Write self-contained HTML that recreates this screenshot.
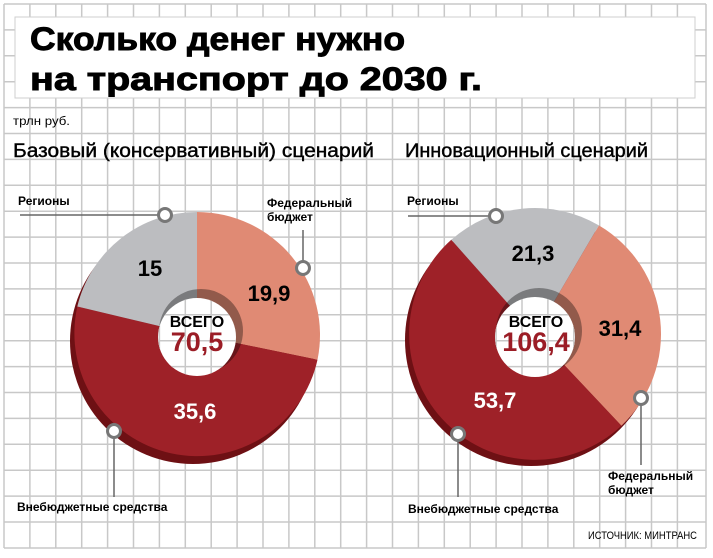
<!DOCTYPE html>
<html><head><meta charset="utf-8"><style>
html,body{margin:0;padding:0;background:#fff;}
svg{display:block;}
text{font-family:"Liberation Sans","DejaVu Sans",sans-serif;}
</style></head><body>
<svg width="713" height="558" viewBox="0 0 713 558" xmlns="http://www.w3.org/2000/svg">
<defs>
<g id="grid" stroke="#c8c8c8" stroke-width="1.5">
<line x1="4" y1="4" x2="4" y2="548"/><line x1="29.9" y1="4" x2="29.9" y2="548"/><line x1="55.8" y1="4" x2="55.8" y2="548"/><line x1="81.7" y1="4" x2="81.7" y2="548"/><line x1="107.6" y1="4" x2="107.6" y2="548"/><line x1="133.5" y1="4" x2="133.5" y2="548"/><line x1="159.4" y1="4" x2="159.4" y2="548"/><line x1="185.3" y1="4" x2="185.3" y2="548"/><line x1="211.2" y1="4" x2="211.2" y2="548"/><line x1="237.1" y1="4" x2="237.1" y2="548"/><line x1="263" y1="4" x2="263" y2="548"/><line x1="288.9" y1="4" x2="288.9" y2="548"/><line x1="314.8" y1="4" x2="314.8" y2="548"/><line x1="340.7" y1="4" x2="340.7" y2="548"/><line x1="366.6" y1="4" x2="366.6" y2="548"/><line x1="392.5" y1="4" x2="392.5" y2="548"/><line x1="418.4" y1="4" x2="418.4" y2="548"/><line x1="444.3" y1="4" x2="444.3" y2="548"/><line x1="470.2" y1="4" x2="470.2" y2="548"/><line x1="496.1" y1="4" x2="496.1" y2="548"/><line x1="522" y1="4" x2="522" y2="548"/><line x1="547.9" y1="4" x2="547.9" y2="548"/><line x1="573.8" y1="4" x2="573.8" y2="548"/><line x1="599.7" y1="4" x2="599.7" y2="548"/><line x1="625.6" y1="4" x2="625.6" y2="548"/><line x1="651.5" y1="4" x2="651.5" y2="548"/><line x1="677.4" y1="4" x2="677.4" y2="548"/><line x1="706" y1="4" x2="706" y2="548"/>
<line x1="4" y1="4" x2="706" y2="4"/><line x1="4" y1="29.9" x2="706" y2="29.9"/><line x1="4" y1="55.8" x2="706" y2="55.8"/><line x1="4" y1="81.7" x2="706" y2="81.7"/><line x1="4" y1="107.6" x2="706" y2="107.6"/><line x1="4" y1="133.5" x2="706" y2="133.5"/><line x1="4" y1="159.4" x2="706" y2="159.4"/><line x1="4" y1="185.3" x2="706" y2="185.3"/><line x1="4" y1="211.2" x2="706" y2="211.2"/><line x1="4" y1="237.1" x2="706" y2="237.1"/><line x1="4" y1="263" x2="706" y2="263"/><line x1="4" y1="288.9" x2="706" y2="288.9"/><line x1="4" y1="314.8" x2="706" y2="314.8"/><line x1="4" y1="340.7" x2="706" y2="340.7"/><line x1="4" y1="366.6" x2="706" y2="366.6"/><line x1="4" y1="392.5" x2="706" y2="392.5"/><line x1="4" y1="418.4" x2="706" y2="418.4"/><line x1="4" y1="444.3" x2="706" y2="444.3"/><line x1="4" y1="470.2" x2="706" y2="470.2"/><line x1="4" y1="496.1" x2="706" y2="496.1"/><line x1="4" y1="522" x2="706" y2="522"/><line x1="4" y1="548" x2="706" y2="548"/>
</g>
<clipPath id="holes"><circle cx="197" cy="337" r="39"/><circle cx="535" cy="337" r="40"/></clipPath>
</defs>
<use href="#grid"/>
<!-- title box -->
<rect x="15" y="17" width="680" height="81" fill="#fff" stroke="#cfcfcf" stroke-width="1"/>
<text x="30" y="50" font-size="32" font-weight="bold" stroke="#000" stroke-width="0.9" textLength="375" lengthAdjust="spacingAndGlyphs">Сколько денег нужно</text>
<text x="30" y="90" font-size="32" font-weight="bold" stroke="#000" stroke-width="0.9" textLength="452" lengthAdjust="spacingAndGlyphs">на транспорт до 2030 г.</text>
<text x="13" y="125" font-size="12" textLength="57" lengthAdjust="spacingAndGlyphs">трлн руб.</text>
<text x="13" y="157" font-size="19" stroke="#000" stroke-width="0.4" textLength="361" lengthAdjust="spacingAndGlyphs">Базовый (консервативный) сценарий</text>
<text x="405" y="157" font-size="19" stroke="#000" stroke-width="0.4" textLength="243" lengthAdjust="spacingAndGlyphs">Инновационный сценарий</text>

<!-- pie 1 -->
<circle cx="193" cy="341" r="123" fill="#6e1014"/>
<path d="M197,335 L197,212 A123,123 0 0 1 317.5,359.7 Z" fill="#e08a74"/>
<path d="M197,335 L317.5,359.7 A123,123 0 1 1 77.3,306.5 Z" fill="#9e2128"/>
<path d="M197,335 L77.3,306.5 A123,123 0 0 1 197,212 Z" fill="#bcbdc0"/>
<circle cx="201" cy="331" r="42" fill="#000" fill-opacity="0.35"/>
<circle cx="197" cy="337" r="39" fill="#fff"/>

<!-- pie 2 -->
<circle cx="531" cy="340" r="126" fill="#6e1014"/>
<path d="M535,334 L598.9,225.4 A126,126 0 0 1 621.4,425.7 Z" fill="#e08a74"/>
<path d="M535,334 L621.4,425.7 A126,126 0 1 1 451.3,239.8 Z" fill="#9e2128"/>
<path d="M535,334 L451.3,239.8 A126,126 0 0 1 598.9,225.4 Z" fill="#bcbdc0"/>
<circle cx="539" cy="331" r="43" fill="#000" fill-opacity="0.35"/>
<circle cx="535" cy="337" r="40" fill="#fff"/>

<g clip-path="url(#holes)"><use href="#grid"/></g>

<!-- values -->
<g font-weight="bold" text-anchor="middle">
<text x="197" y="327" font-size="16">ВСЕГО</text>
<text x="197" y="351" font-size="27" fill="#9b1d26">70,5</text>
<text x="150" y="276" font-size="22">15</text>
<text x="269" y="301" font-size="22">19,9</text>
<text x="195" y="419" font-size="22" fill="#fff">35,6</text>
<text x="536" y="327" font-size="16">ВСЕГО</text>
<text x="536" y="351" font-size="27" fill="#9b1d26">106,4</text>
<text x="533" y="261" font-size="22">21,3</text>
<text x="620" y="336" font-size="22">31,4</text>
<text x="495" y="408" font-size="22" fill="#fff">53,7</text>
</g>

<!-- callouts -->
<g stroke="#666" stroke-width="1.5" fill="none">
<line x1="20" y1="215" x2="160" y2="215"/>
<line x1="303" y1="230" x2="303" y2="263"/>
<line x1="114" y1="437" x2="114" y2="497"/>
<line x1="408" y1="216" x2="490" y2="216"/>
<line x1="641" y1="404" x2="641" y2="465"/>
<line x1="458" y1="440" x2="458" y2="497"/>
</g>
<g stroke="#777" stroke-width="3" fill="#fff">
<circle cx="165" cy="215" r="6.5"/>
<circle cx="303" cy="268" r="6.5"/>
<circle cx="114" cy="431" r="6.5"/>
<circle cx="496" cy="216" r="6.5"/>
<circle cx="641" cy="398" r="6.5"/>
<circle cx="458" cy="434" r="6.5"/>
</g>
<g font-size="12" font-weight="bold">
<text x="18" y="205">Регионы</text>
<text x="267" y="207">Федеральный</text>
<text x="267" y="221">бюджет</text>
<text x="17" y="511">Внебюджетные средства</text>
<text x="407" y="205">Регионы</text>
<text x="608" y="480">Федеральный</text>
<text x="608" y="494">бюджет</text>
<text x="408" y="513">Внебюджетные средства</text>
</g>
<text x="588" y="539" font-size="11" textLength="109" lengthAdjust="spacingAndGlyphs">ИСТОЧНИК: МИНТРАНС</text>
</svg>
</body></html>
